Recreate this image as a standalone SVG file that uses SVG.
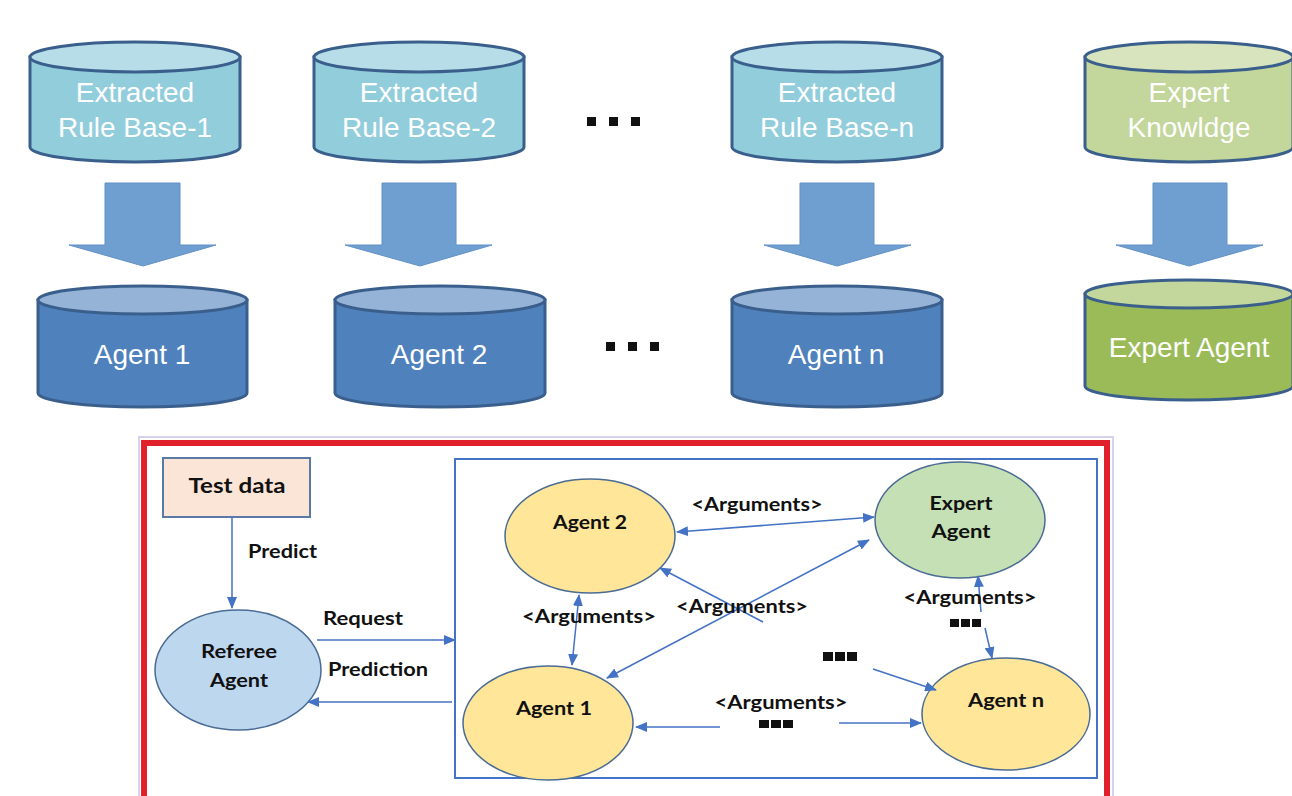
<svg xmlns="http://www.w3.org/2000/svg" width="1292" height="796" viewBox="0 0 1292 796">
<style>
.cylb{fill:#92CDDC;stroke:#3A5F8C;stroke-width:3}
.cylt{fill:#B7DEE8;stroke:#3A5F8C;stroke-width:3}
.agb{fill:#4F81BD;stroke:#3A5F8C;stroke-width:3}
.agt{fill:#95B3D7;stroke:#3A5F8C;stroke-width:3}
.exb{fill:#C3D69B;stroke:#3A5F8C;stroke-width:3}
.ext{fill:#D7E4BD;stroke:#3A5F8C;stroke-width:3}
.eab{fill:#9BBB59;stroke:#3A5F8C;stroke-width:3}
.eat{fill:#C3D69B;stroke:#3A5F8C;stroke-width:3}
.big{font-family:"Liberation Sans",Arial,sans-serif;font-size:28px;fill:#fff;text-anchor:middle}
.blk{fill:#6F9FD1;stroke:#6290C6;stroke-width:1}
.lbl{font-family:Lato,"Liberation Sans",sans-serif;font-weight:bold;font-size:19.5px;fill:#111}
.mid{text-anchor:middle}
.ell{stroke:#4A6B94;stroke-width:1.5}
.con{fill:none;stroke:#4472C4;stroke-width:1.5}
.dot{fill:#111}
</style>
<defs>
<marker id="ah" markerUnits="userSpaceOnUse" markerWidth="12" markerHeight="10" refX="11" refY="5" orient="auto-start-reverse">
<path d="M0,0 L12,5 L0,10 Z" fill="#4472C4"/>
</marker>
</defs>

<!-- top row -->
<g id="rb1">
<path class="cylb" d="M30,57 V147 A105,15 0 0 0 240,147 V57 Z"/>
<ellipse class="cylt" cx="135" cy="57" rx="105" ry="15"/>
<text class="big" x="135" y="102">Extracted</text>
<text class="big" x="135" y="137">Rule Base-1</text>
</g>
<g id="rb2">
<path class="cylb" d="M314,57 V147 A105,15 0 0 0 524,147 V57 Z"/>
<ellipse class="cylt" cx="419" cy="57" rx="105" ry="15"/>
<text class="big" x="419" y="102">Extracted</text>
<text class="big" x="419" y="137">Rule Base-2</text>
</g>
<g id="rbn">
<path class="cylb" d="M732,57 V147 A105,15 0 0 0 942,147 V57 Z"/>
<ellipse class="cylt" cx="837" cy="57" rx="105" ry="15"/>
<text class="big" x="837" y="102">Extracted</text>
<text class="big" x="837" y="137">Rule Base-n</text>
</g>
<g id="ek">
<path class="exb" d="M1085,57 V147 A104,15 0 0 0 1293,147 V57 Z"/>
<ellipse class="ext" cx="1189" cy="57" rx="104" ry="15"/>
<text class="big" x="1189" y="102">Expert</text>
<text class="big" x="1189" y="137">Knowldge</text>
</g>
<g id="dots-top">
<rect class="dot" x="587" y="117" width="9" height="9"/>
<rect class="dot" x="609" y="117" width="9" height="9"/>
<rect class="dot" x="631" y="117" width="9" height="9"/>
</g>

<!-- block arrows -->
<g id="block-arrows">
<path class="blk" d="M105,183 H180 V245 H216 L143,266 L69,245 H105 Z"/>
<path class="blk" d="M382,183 H456 V245 H492 L420,266 L345,245 H382 Z"/>
<path class="blk" d="M800,183 H874 V245 H911 L837,266 L764,245 H800 Z"/>
<path class="blk" d="M1153,183 H1227 V245 H1263 L1189,266 L1116,245 H1153 Z"/>
</g>

<!-- agent cylinders -->
<g id="ag1">
<path class="agb" d="M38,300 V393 A104.5,14 0 0 0 247,393 V300 Z"/>
<ellipse class="agt" cx="142.5" cy="300" rx="104.5" ry="14"/>
<text class="big" x="142" y="364">Agent 1</text>
</g>
<g id="ag2">
<path class="agb" d="M335,300 V393 A105,14 0 0 0 545,393 V300 Z"/>
<ellipse class="agt" cx="440" cy="300" rx="105" ry="14"/>
<text class="big" x="439" y="364">Agent 2</text>
</g>
<g id="agn">
<path class="agb" d="M732,300 V393 A105,14 0 0 0 942,393 V300 Z"/>
<ellipse class="agt" cx="837" cy="300" rx="105" ry="14"/>
<text class="big" x="836" y="364">Agent n</text>
</g>
<g id="exa">
<path class="eab" d="M1085,294 V386 A104,14 0 0 0 1293,386 V294 Z"/>
<ellipse class="eat" cx="1189" cy="294" rx="104" ry="14"/>
<text class="big" x="1189" y="357">Expert Agent</text>
</g>
<g id="dots-mid">
<rect class="dot" x="606" y="342" width="9" height="9"/>
<rect class="dot" x="628" y="342" width="9" height="9"/>
<rect class="dot" x="650" y="342" width="9" height="9"/>
</g>

<!-- bottom frame -->
<g id="frame">
<rect x="139" y="437" width="974" height="420" fill="none" stroke="#D4D2EC" stroke-width="2"/>
<rect x="144" y="443" width="963" height="410" fill="#fff" stroke="#E0202A" stroke-width="6"/>
<rect x="455" y="459" width="642" height="319" fill="#fff" stroke="#4472C4" stroke-width="2"/>
</g>

<g id="testdata">
<rect x="163" y="458" width="147" height="59" fill="#FBE5D6" stroke="#5A79A5" stroke-width="2"/>
<text class="lbl mid" x="237" y="493" style="font-size:21px" textLength="97" lengthAdjust="spacingAndGlyphs">Test data</text>
</g>
<g id="referee">
<ellipse class="ell" cx="238" cy="670" rx="83" ry="60" fill="#BDD7EE"/>
<text class="lbl mid" x="239" y="658" textLength="76" lengthAdjust="spacingAndGlyphs">Referee</text>
<text class="lbl mid" x="239" y="687" textLength="58" lengthAdjust="spacingAndGlyphs">Agent</text>
</g>
<g id="agent2">
<ellipse class="ell" cx="590" cy="536" rx="85" ry="57" fill="#FFE699"/>
<text class="lbl mid" x="590" y="529" textLength="74" lengthAdjust="spacingAndGlyphs">Agent 2</text>
</g>
<g id="expert">
<ellipse class="ell" cx="960" cy="520" rx="85" ry="58" fill="#C5E0B4"/>
<text class="lbl mid" x="961" y="510" textLength="63" lengthAdjust="spacingAndGlyphs">Expert</text>
<text class="lbl mid" x="961" y="538" textLength="59" lengthAdjust="spacingAndGlyphs">Agent</text>
</g>
<g id="agent1">
<ellipse class="ell" cx="548" cy="723" rx="85" ry="57" fill="#FFE699"/>
<text class="lbl mid" x="554" y="715" textLength="76" lengthAdjust="spacingAndGlyphs">Agent 1</text>
</g>
<g id="agentn">
<ellipse class="ell" cx="1006" cy="714" rx="84" ry="56" fill="#FFE699"/>
<text class="lbl mid" x="1006" y="707" textLength="76" lengthAdjust="spacingAndGlyphs">Agent n</text>
</g>

<g id="connectors">
<line class="con" x1="232" y1="517" x2="232" y2="608" marker-end="url(#ah)"/>
<line class="con" x1="317" y1="640" x2="455" y2="640" marker-end="url(#ah)"/>
<line class="con" x1="452" y1="702" x2="308" y2="702" marker-end="url(#ah)"/>
<line class="con" x1="677" y1="532" x2="874" y2="517" marker-start="url(#ah)" marker-end="url(#ah)"/>
<line class="con" x1="579" y1="595" x2="572" y2="665" marker-start="url(#ah)" marker-end="url(#ah)"/>
<line class="con" x1="607" y1="678" x2="869" y2="540" marker-start="url(#ah)" marker-end="url(#ah)"/>
<line class="con" x1="763" y1="622" x2="660" y2="568" marker-end="url(#ah)"/>
<line class="con" x1="981" y1="612" x2="978" y2="576" marker-end="url(#ah)"/>
<line class="con" x1="985" y1="628" x2="992" y2="658" marker-end="url(#ah)"/>
<line class="con" x1="873" y1="669" x2="936" y2="690" marker-end="url(#ah)"/>
<line class="con" x1="720" y1="727" x2="636" y2="727" marker-end="url(#ah)"/>
<line class="con" x1="839" y1="723" x2="921" y2="723" marker-end="url(#ah)"/>
</g>

<g id="labels">
<text class="lbl" x="248" y="558" textLength="69" lengthAdjust="spacingAndGlyphs">Predict</text>
<text class="lbl" x="323" y="625" textLength="80" lengthAdjust="spacingAndGlyphs">Request</text>
<text class="lbl" x="328" y="676" textLength="100" lengthAdjust="spacingAndGlyphs">Prediction</text>
<text class="lbl mid" x="757" y="511" textLength="131" lengthAdjust="spacingAndGlyphs">&lt;Arguments&gt;</text>
<text class="lbl mid" x="589" y="623" textLength="134" lengthAdjust="spacingAndGlyphs">&lt;Arguments&gt;</text>
<text class="lbl mid" x="742" y="613" textLength="132" lengthAdjust="spacingAndGlyphs">&lt;Arguments&gt;</text>
<text class="lbl mid" x="970" y="604" textLength="133" lengthAdjust="spacingAndGlyphs">&lt;Arguments&gt;</text>
<text class="lbl mid" x="781" y="709" textLength="133" lengthAdjust="spacingAndGlyphs">&lt;Arguments&gt;</text>
<rect class="dot" x="950" y="619" width="9" height="8"/>
<rect class="dot" x="961" y="619" width="9" height="8"/>
<rect class="dot" x="972" y="619" width="9" height="8"/>
<rect class="dot" x="823" y="652" width="10" height="9"/>
<rect class="dot" x="835" y="652" width="10" height="9"/>
<rect class="dot" x="847" y="652" width="10" height="9"/>
<rect class="dot" x="759" y="720" width="10" height="8"/>
<rect class="dot" x="771" y="720" width="10" height="8"/>
<rect class="dot" x="783" y="720" width="10" height="8"/>
</g>
</svg>
